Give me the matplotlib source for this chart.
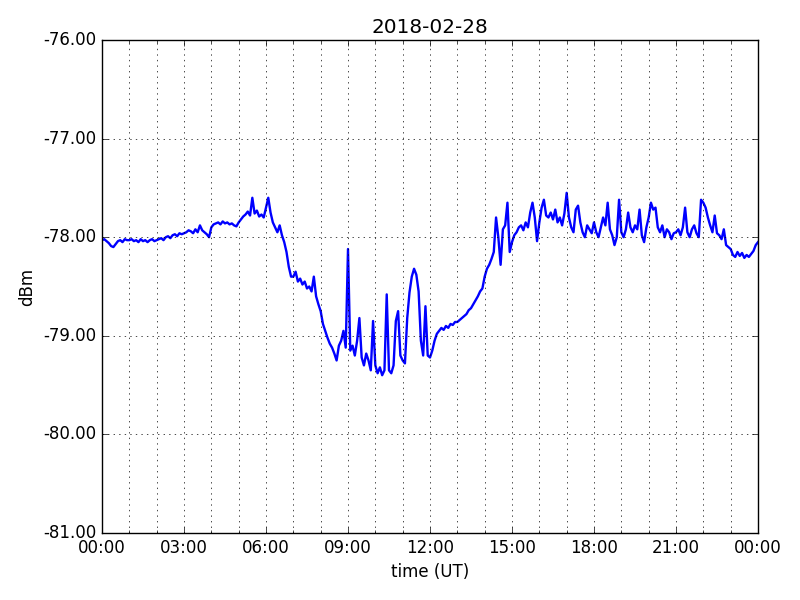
import pandas as pd
import matplotlib
import matplotlib.pyplot as plt
import matplotlib.dates as mdates
from matplotlib.ticker import FormatStrFormatter

plt.style.use("classic")

# signal level (dBm), one value every 5 minutes, one row per hour
dbm_h00 = [-78.03, -78.02, -78.04, -78.06, -78.09, -78.10, -78.07, -78.04, -78.03, -78.05, -78.02, -78.03]
dbm_h01 = [-78.03, -78.02, -78.04, -78.03, -78.05, -78.02, -78.04, -78.03, -78.05, -78.03, -78.02, -78.04]
dbm_h02 = [-78.03, -78.02, -78.01, -78.03, -78.00, -77.99, -78.01, -77.98, -77.97, -77.99, -77.96, -77.97]
dbm_h03 = [-77.96, -77.95, -77.93, -77.94, -77.96, -77.92, -77.95, -77.88, -77.93, -77.95, -77.97, -78.00]
dbm_h04 = [-77.90, -77.87, -77.86, -77.85, -77.87, -77.84, -77.86, -77.85, -77.87, -77.86, -77.88, -77.89]
dbm_h05 = [-77.85, -77.82, -77.79, -77.77, -77.74, -77.78, -77.60, -77.76, -77.73, -77.79, -77.77, -77.80]
dbm_h06 = [-77.70, -77.60, -77.75, -77.85, -77.90, -77.95, -77.88, -77.98, -78.05, -78.15, -78.30, -78.40]
dbm_h07 = [-78.40, -78.35, -78.45, -78.42, -78.48, -78.45, -78.52, -78.50, -78.55, -78.40, -78.60, -78.68]
dbm_h08 = [-78.75, -78.88, -78.95, -79.02, -79.08, -79.12, -79.18, -79.25, -79.10, -79.05, -78.95, -79.12]
dbm_h09 = [-78.12, -79.15, -79.10, -79.20, -79.05, -78.82, -79.22, -79.30, -79.18, -79.25, -79.35, -78.85]
dbm_h10 = [-79.30, -79.38, -79.32, -79.40, -79.35, -78.58, -79.35, -79.38, -79.30, -78.85, -78.75, -79.20]
dbm_h11 = [-79.25, -79.28, -78.82, -78.56, -78.40, -78.32, -78.38, -78.55, -79.05, -79.20, -78.70, -79.20]
dbm_h12 = [-79.22, -79.15, -79.05, -78.98, -78.95, -78.92, -78.94, -78.90, -78.92, -78.88, -78.89, -78.86]
dbm_h13 = [-78.86, -78.84, -78.82, -78.80, -78.78, -78.74, -78.72, -78.68, -78.64, -78.60, -78.55, -78.52]
dbm_h14 = [-78.40, -78.32, -78.28, -78.22, -78.15, -77.80, -78.00, -78.28, -77.92, -77.88, -77.65, -78.15]
dbm_h15 = [-78.05, -77.98, -77.95, -77.90, -77.88, -77.93, -77.85, -77.90, -77.75, -77.65, -77.80, -78.04]
dbm_h16 = [-77.85, -77.70, -77.62, -77.78, -77.80, -77.75, -77.82, -77.72, -77.85, -77.80, -77.88, -77.76]
dbm_h17 = [-77.55, -77.80, -77.90, -77.95, -77.72, -77.68, -77.85, -77.95, -78.00, -77.88, -77.92, -77.96]
dbm_h18 = [-77.85, -77.95, -78.00, -77.90, -77.80, -77.88, -77.65, -77.92, -77.98, -78.08, -78.00, -77.62]
dbm_h19 = [-77.95, -78.00, -77.92, -77.75, -77.90, -77.95, -77.88, -77.92, -77.72, -77.98, -78.05, -77.90]
dbm_h20 = [-77.80, -77.65, -77.72, -77.70, -77.90, -77.95, -77.88, -78.00, -77.92, -77.95, -78.02, -77.96]
dbm_h21 = [-77.95, -77.92, -77.98, -77.90, -77.70, -77.95, -78.00, -77.92, -77.88, -77.96, -78.00, -77.62]
dbm_h22 = [-77.65, -77.70, -77.80, -77.88, -77.95, -77.78, -77.96, -77.98, -78.02, -77.92, -78.08, -78.10]
dbm_h23 = [-78.12, -78.18, -78.20, -78.15, -78.19, -78.16, -78.21, -78.18, -78.20, -78.17, -78.14, -78.08]
dbm_end = [-78.05]

dbm = (dbm_h00 + dbm_h01 + dbm_h02 + dbm_h03 + dbm_h04 + dbm_h05 + dbm_h06 + dbm_h07
       + dbm_h08 + dbm_h09 + dbm_h10 + dbm_h11 + dbm_h12 + dbm_h13 + dbm_h14 + dbm_h15
       + dbm_h16 + dbm_h17 + dbm_h18 + dbm_h19 + dbm_h20 + dbm_h21 + dbm_h22 + dbm_h23
       + dbm_end)
times = pd.date_range("2018-02-28 00:00", periods=len(dbm), freq="5min")

fig = plt.figure(figsize=(8, 6), dpi=100)
ax = fig.add_subplot(111)
ax.plot(times, dbm, color="b", linewidth=1.7)

ax.set_xlim(pd.Timestamp("2018-02-28 00:00"), pd.Timestamp("2018-03-01 00:00"))
ax.set_ylim(-81, -76)
ax.xaxis.set_major_locator(mdates.HourLocator(byhour=range(0, 24, 3)))
ax.xaxis.set_minor_locator(mdates.HourLocator())
ax.xaxis.set_major_formatter(mdates.DateFormatter("%H:%M"))
ax.yaxis.set_major_formatter(FormatStrFormatter("%.2f"))

ax.grid(True, which="major", color="k", linestyle=":")
ax.xaxis.grid(True, which="minor", color="k", linestyle=":")

ax.set_title("2018-02-28")
ax.set_xlabel("time (UT)")
ax.set_ylabel("dBm")

plt.subplots_adjust(left=0.1275, right=0.9475, top=0.9333, bottom=0.1117)
plt.savefig("out.png", dpi=100)
